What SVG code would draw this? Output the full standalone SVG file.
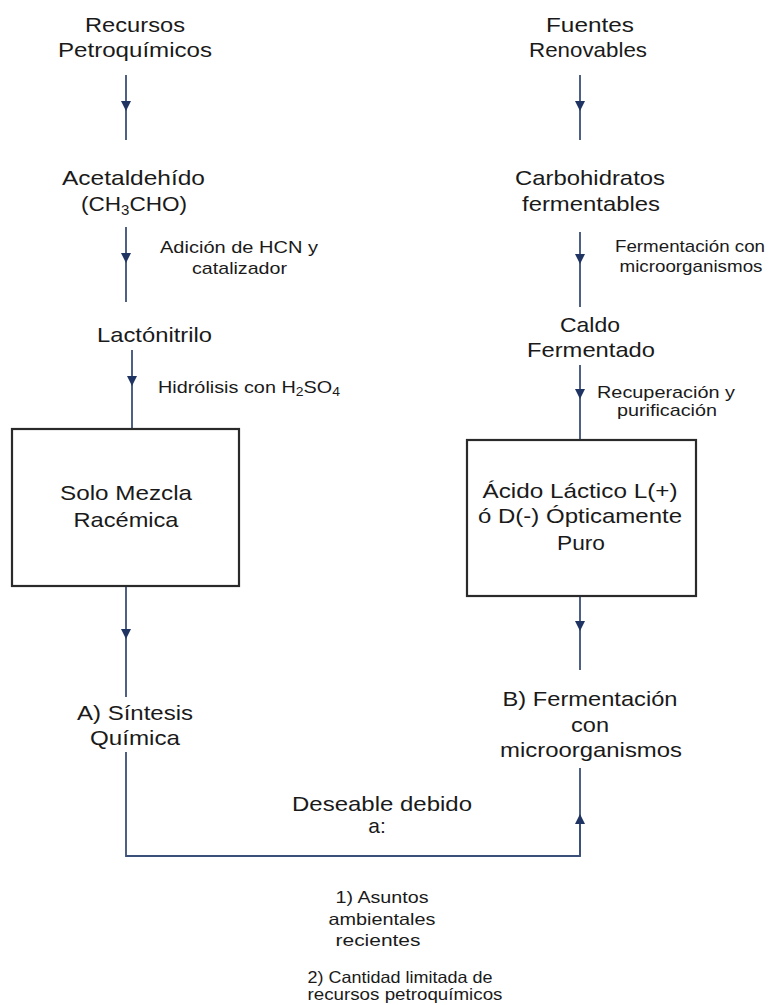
<svg xmlns="http://www.w3.org/2000/svg" width="778" height="1005" viewBox="0 0 778 1005">
<style>
text{font-family:"Liberation Sans",Arial,sans-serif;fill:#1a1a1a;}
.m{font-size:21px;text-anchor:middle;}
.l{font-size:17px;}
.lc{font-size:17px;text-anchor:middle;}
.b{font-size:16.5px;text-anchor:middle;}
.ln{fill:none;stroke:#3b5078;stroke-width:1.8;}
.box{fill:#fff;stroke:#2a2a2a;stroke-width:2.2;}
</style>
<defs>
<marker id="ah" viewBox="0 0 10 10" refX="10" refY="5" markerWidth="11" markerHeight="10" markerUnits="userSpaceOnUse" orient="auto">
<path d="M0,0 L10,5 L0,10 z" fill="#1f3463"/>
</marker>
</defs>
<rect width="778" height="1005" fill="#fff"/>
<g id="connectors">
<polyline class="ln" points="126,75 126,111 126,140" marker-mid="url(#ah)"/>
<polyline class="ln" points="126,227 126,263 126,302" marker-mid="url(#ah)"/>
<polyline class="ln" points="132,350 132,386 132,429" marker-mid="url(#ah)"/>
<polyline class="ln" points="126,586 126,639 126,697" marker-mid="url(#ah)"/>
<polyline class="ln" points="580,75 580,111 580,140" marker-mid="url(#ah)"/>
<polyline class="ln" points="580,232 580,264 580,307" marker-mid="url(#ah)"/>
<polyline class="ln" points="580,365 580,399 580,440" marker-mid="url(#ah)"/>
<polyline class="ln" points="580,596 580,631 580,670" marker-mid="url(#ah)"/>
<polyline class="ln" points="126,752 126,856 580,856 580,815"/>
<polyline class="ln" points="580,856 580,814 580,768" marker-mid="url(#ah)"/>
</g>
<g id="recursos">
<text class="m" x="135" y="32" textLength="100" lengthAdjust="spacingAndGlyphs">Recursos</text>
<text class="m" x="135" y="57" textLength="154" lengthAdjust="spacingAndGlyphs">Petroquímicos</text>
</g>
<g id="acetaldehido">
<text class="m" x="133.5" y="185" textLength="143" lengthAdjust="spacingAndGlyphs">Acetaldehído</text>
<text class="m" x="134" y="211" textLength="106" lengthAdjust="spacingAndGlyphs">(CH<tspan font-size="14" dy="4">3</tspan><tspan dy="-4">CHO)</tspan></text>
</g>
<g id="lbl-adicion">
<text class="lc" x="239" y="253" textLength="158" lengthAdjust="spacingAndGlyphs">Adición de HCN y</text>
<text class="lc" x="239.5" y="274" textLength="95" lengthAdjust="spacingAndGlyphs">catalizador</text>
</g>
<g id="lactonitrilo">
<text class="m" x="154.5" y="342" textLength="115" lengthAdjust="spacingAndGlyphs">Lactónitrilo</text>
</g>
<g id="lbl-hidrolisis">
<text class="l" x="158" y="393" textLength="182" lengthAdjust="spacingAndGlyphs">Hidrólisis con H<tspan font-size="12" dy="3">2</tspan><tspan dy="-3">SO</tspan><tspan font-size="12" dy="3">4</tspan></text>
</g>
<g id="mezcla">
<rect class="box" x="12" y="429" width="227" height="157"/>
<text class="m" x="126" y="500" textLength="132" lengthAdjust="spacingAndGlyphs">Solo Mezcla</text>
<text class="m" x="126" y="527" textLength="105" lengthAdjust="spacingAndGlyphs">Racémica</text>
</g>
<g id="sintesis">
<text class="m" x="135" y="720" textLength="116" lengthAdjust="spacingAndGlyphs">A) Síntesis</text>
<text class="m" x="135" y="745" textLength="90" lengthAdjust="spacingAndGlyphs">Química</text>
</g>
<g id="fuentes">
<text class="m" x="590" y="32" textLength="88" lengthAdjust="spacingAndGlyphs">Fuentes</text>
<text class="m" x="588" y="57" textLength="118" lengthAdjust="spacingAndGlyphs">Renovables</text>
</g>
<g id="carbohidratos">
<text class="m" x="590" y="185" textLength="150" lengthAdjust="spacingAndGlyphs">Carbohidratos</text>
<text class="m" x="591" y="211" textLength="138" lengthAdjust="spacingAndGlyphs">fermentables</text>
</g>
<g id="lbl-fermentacion">
<text class="lc" x="690" y="252" textLength="150" lengthAdjust="spacingAndGlyphs">Fermentación con</text>
<text class="lc" x="691" y="272" textLength="143" lengthAdjust="spacingAndGlyphs">microorganismos</text>
</g>
<g id="caldo">
<text class="m" x="590" y="332" textLength="60" lengthAdjust="spacingAndGlyphs">Caldo</text>
<text class="m" x="591" y="357" textLength="128" lengthAdjust="spacingAndGlyphs">Fermentado</text>
</g>
<g id="lbl-recuperacion">
<text class="lc" x="666" y="398" textLength="138" lengthAdjust="spacingAndGlyphs">Recuperación y</text>
<text class="lc" x="667" y="416" textLength="100" lengthAdjust="spacingAndGlyphs">purificación</text>
</g>
<g id="acido">
<rect class="box" x="467" y="440" width="229" height="156"/>
<text class="m" x="580" y="498" textLength="195" lengthAdjust="spacingAndGlyphs">Ácido Láctico L(+)</text>
<text class="m" x="580" y="523" textLength="204" lengthAdjust="spacingAndGlyphs">ó D(-) Ópticamente</text>
<text class="m" x="581" y="550" textLength="48" lengthAdjust="spacingAndGlyphs">Puro</text>
</g>
<g id="fermentacion">
<text class="m" x="590" y="706" textLength="175" lengthAdjust="spacingAndGlyphs">B) Fermentación</text>
<text class="m" x="590" y="732" textLength="38" lengthAdjust="spacingAndGlyphs">con</text>
<text class="m" x="591" y="757" textLength="182" lengthAdjust="spacingAndGlyphs">microorganismos</text>
</g>
<g id="deseable">
<text class="m" x="382" y="811" textLength="180" lengthAdjust="spacingAndGlyphs">Deseable debido</text>
<text class="m" x="377" y="833">a:</text>
</g>
<g id="razones">
<text class="b" x="382" y="903" textLength="93" lengthAdjust="spacingAndGlyphs">1) Asuntos</text>
<text class="b" x="382" y="925" textLength="107" lengthAdjust="spacingAndGlyphs">ambientales</text>
<text class="b" x="378" y="946" textLength="85" lengthAdjust="spacingAndGlyphs">recientes</text>
<text class="b" x="400" y="983" textLength="185" lengthAdjust="spacingAndGlyphs">2) Cantidad limitada de</text>
<text class="b" x="405" y="1000" textLength="195" lengthAdjust="spacingAndGlyphs">recursos petroquímicos</text>
</g>
</svg>
